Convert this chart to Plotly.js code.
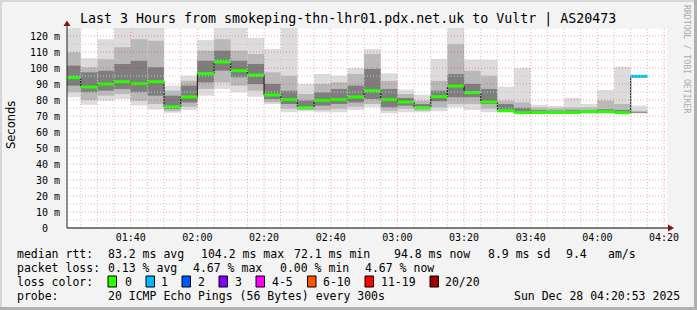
<!DOCTYPE html>
<html><head><meta charset="utf-8">
<script src="https://cdn.plot.ly/plotly-3.0.1.min.js"></script>
<style>html,body{margin:0;padding:0;background:#f3f3f3;}#chart{width:697px;height:310px;}</style>
</head><body><div id="chart"></div>
<script>
// ---------------- data ----------------
const DAY = "2025-12-28";
const bucketStart = ["01:20","01:25","01:30","01:35","01:40","01:45","01:50","01:55",
  "02:00","02:05","02:10","02:15","02:20","02:25","02:30","02:35","02:40","02:45","02:50","02:55",
  "03:00","03:05","03:10","03:15","03:20","03:25","03:30","03:35","03:40","03:45","03:50","03:55",
  "04:00","04:05","04:10"];
const medianMs = [94, 88.1, 90, 91.4, 90.2, 91.4, 75.8, 81.9, 96.5, 103.75, 98.3, 95.6, 83.1, 80.2, 75.2, 79.8, 80.2, 81.9, 85.8, 80.2, 78.75, 75.2, 82.1, 88.75, 84.6, 78.75, 73.3, 72.1, 72.2, 72.2, 72.2, 72.7, 72.7, 72.1, 94.8];
const minMs = [81.7, 77, 79.6, 80.6, 76.5, 74, 72, 73.75, 82.7, 86.9, 84.8, 82, 77.5, 72.3, 72.9, 72.3, 72.3, 73.75, 75.4, 71.7, 72.3, 72.3, 72.9, 75.4, 73.75, 72.3, 72.3, 71.7, 71.7, 71.7, 71.7, 71.7, 71.7, 71.7, 71.7];
const p10Ms = [84.8, 80, 82.7, 83.75, 79.6, 77.5, 73, 75.8, 86.9, 91, 89, 85.8, 78.5, 74.4, 73.75, 73.75, 74.4, 75.8, 77.5, 73.3, 74.4, 73.3, 75.4, 77.5, 77.5, 74.4, 72.5, 71.8, 71.8, 71.8, 71.8, 71.8, 71.8, 71.8, 71.8];
const p25Ms = [89, 84.8, 85.8, 86.9, 84.8, 82.7, 74.4, 78.5, 91, 98.3, 94.2, 90, 80.6, 77.5, 74.4, 76.5, 77.5, 78.5, 80.6, 75.4, 76.5, 74.4, 79.2, 81.7, 81.7, 77.5, 72.9, 72, 72, 72, 72, 72.3, 72.3, 72, 71.9];
const p75Ms = [101.5, 97.3, 98.3, 102.5, 104.6, 100.4, 82.7, 89, 104.6, 110.8, 104.6, 102.5, 90, 85.8, 79.6, 84.8, 86.9, 89, 99.4, 86.9, 81.25, 77.5, 85.8, 96.25, 90, 86.9, 77.5, 75.2, 73.6, 73.4, 73.6, 73.4, 74.2, 73.8, 72.3];
const p90Ms = [109.8, 100.4, 105.6, 113, 118, 117, 85.8, 92, 110.8, 118, 110.8, 108.75, 97.3, 95.2, 83.75, 90, 91, 96.25, 108.75, 92, 83.75, 79.6, 92, 115, 98.3, 95.2, 79.6, 78.5, 75.4, 75, 75.4, 75.4, 79.6, 77.5, 73.2];
const maxMs = [127, 106.2, 118, 127, 127, 127, 89, 95.2, 117.5, 127, 127, 118.75, 111.9, 127, 90, 96.25, 95.2, 100, 111.9, 96.7, 86.5, 83.3, 105.6, 127, 105.2, 105.2, 88.3, 100, 77, 76.25, 81.25, 77.5, 86.25, 100.8, 76.5];
const lostPings = [0,0,0,0,0,0,0,0,0,0,0,0,0,0,0,0,0,0,0,0,0,0,0,0,0,0,0,0,0,0,0,0,0,0,1];

const xTickLabels = ["01:40","02:00","02:20","02:40","03:00","03:20","03:40","04:00","04:20"];
const yTickVals = [0,10,20,30,40,50,60,70,80,90,100,110,120];
const yTickText = ["0\u00a0\u00a0","10 m","20 m","30 m","40 m","50 m","60 m","70 m","80 m","90 m","100 m","110 m","120 m"];

const lossLabels = ["0","1","2","3","4-5","6-10","11-19","20/20"];
const lossColors = ["#26ff00","#00b8ff","#0059ff","#7e00ff","#ff00ff","#ff5500","#ff0000","#a10000"];

const titleText = "Last 3 Hours from smokeping-thn-lhr01.pdx.net.uk to Vultr | AS20473";
const legendLine1 = [[16,"median rtt:"],[107,"83.2 ms avg"],[200,"104.2 ms max"],[293,"72.1 ms min"],[393,"94.8 ms now"],[487,"8.9 ms sd"],[565,"9.4"],[607,"am/s"]];
const legendLine2 = [[16,"packet loss:"],[107,"0.13 % avg"],[192,"4.67 % max"],[279,"0.00 % min"],[364,"4.67 % now"]];
const legendLine3Label = [16,"loss color:"];
const lossBoxX = [108,146,182,219,256,307.5,365,430];
const lossTextX = [123.5,160,197,234,271,322,380,444];
const legendLine4 = [[16,"probe:"],[107,"20 ICMP Echo Pings (56 Bytes) every 300s"],[513,"Sun Dec 28 04:20:53 2025"]];

// ---------------- helpers ----------------
const STEP_MIN = 5;
function ts(hhmm, addMin){
  const [h,m] = hhmm.split(":").map(Number);
  const t = h*60 + m + (addMin||0);
  const hh = String(Math.floor(t/60)).padStart(2,"0"), mm = String(t%60).padStart(2,"0");
  return DAY + " " + hh + ":" + mm + ":00";
}
const PL = 67, PR = 667, PT = 28, PB = 228;
function px(x){ return (x-PL)/(PR-PL); }
function py(y){ return (PB-y)/(PB-PT); }

const xs = bucketStart.map(s => ts(s));
const lastEnd = ts(bucketStart[bucketStart.length-1], STEP_MIN);

function band(lo, hi, color){
  return {type:"bar", x: xs, base: lo, y: hi.map((v,i)=>v-lo[i]), width: STEP_MIN*60000, offset: 0,
    marker:{color: color, line:{width:0}}, hoverinfo:"skip", showlegend:false};
}
const traces = [
  band(minMs, maxMs, "#dcdcdc"),
  band(p10Ms, p90Ms, "#b8b8b8"),
  band(p25Ms, p75Ms, "#7e7e7e"),
];
// step line (risers)
traces.push({type:"scatter", mode:"lines", x: xs.concat([lastEnd]), y: medianMs.concat([medianMs[medianMs.length-1]]),
  line:{shape:"hv", color:"#111", width:1}, hoverinfo:"skip", showlegend:false});
// median segments coloured by loss
const levelOf = n => n===0?0:n===1?1:n===2?2:n===3?3:n<=5?4:n<=10?5:n<20?6:7;
for (let lv=0; lv<lossColors.length; lv++){
  const sx=[], sy=[];
  medianMs.forEach((m,i)=>{ if(levelOf(lostPings[i])===lv){ sx.push(xs[i], ts(bucketStart[i],STEP_MIN), null); sy.push(m,m,null);} });
  if (sx.length) traces.push({type:"scatter", mode:"lines", x:sx, y:sy, line:{color:lossColors[lv], width:3}, hoverinfo:"skip", showlegend:false});
}

// ---------------- grid (drawn above the smoke, like rrdtool) ----------------
const shapes = [];
const GRID_MINOR = "#c4c4c4", GRID_MAJOR = "rgba(255,0,0,0.38)", DOT = "1px,2px";
for (let t = 80; t <= 260; t += STEP_MIN){
  const hh = String(Math.floor(t/60)).padStart(2,"0")+":"+String(t%60).padStart(2,"0");
  const major = xTickLabels.includes(hh);
  shapes.push({type:"line", xref:"x", yref:"paper", x0: ts(hh), x1: ts(hh), y0:0, y1:1, layer:"above",
    line:{color: major?GRID_MAJOR:GRID_MINOR, width:1, dash: DOT}});
}
for (let v = 5; v <= 125; v += 5){
  const major = v % 10 === 0;
  shapes.push({type:"line", xref:"paper", yref:"y", x0:0, x1:1, y0:v, y1:v, layer:"above",
    line:{color: major?GRID_MAJOR:GRID_MINOR, width:1, dash: DOT}});
}
// axis extensions + arrows
shapes.push({type:"line", xref:"paper", yref:"paper", x0:px(67), x1:px(67), y0:py(228), y1:py(23), line:{color:"#222", width:1}, layer:"above"});
shapes.push({type:"line", xref:"paper", yref:"paper", x0:px(67), x1:px(669), y0:py(228), y1:py(228), line:{color:"#000", width:1}, layer:"above"});
shapes.push({type:"path", xref:"paper", yref:"paper", layer:"above",
  path:`M ${px(63.5)} ${py(26)} L ${px(67)} ${py(20.5)} L ${px(70.5)} ${py(26)} Z`, fillcolor:"#8b1010", line:{width:0}});
shapes.push({type:"path", xref:"paper", yref:"paper", layer:"above",
  path:`M ${px(668)} ${py(224.5)} L ${px(674)} ${py(228)} L ${px(668)} ${py(231.5)} Z`, fillcolor:"#8b1010", line:{width:0}});
// frame
function rectPx(x0,y0,x1,y1,c){ shapes.push({type:"rect", xref:"paper", yref:"paper", x0:px(x0), x1:px(x1), y0:py(y0), y1:py(y1), fillcolor:c, line:{width:0}, layer:"above"}); }
rectPx(0,0,697,2,"#d6d6d6");
rectPx(0,0,2,310,"#d6d6d6");
rectPx(0,307,697,310,"#b0b0b0");
rectPx(694,0,697,310,"#b0b0b0");
// loss colour boxes
lossBoxX.forEach((bx,i)=>{
  shapes.push({type:"rect", xref:"paper", yref:"paper", x0:px(bx), x1:px(bx+8.5), y0:py(287), y1:py(276),
    fillcolor: lossColors[i], line:{color:"#000", width:1}});
});

// ---------------- text ----------------
const MONO = "DejaVu Sans Mono";
const ann = [];
function txt(x, y, s, opt){
  ann.push(Object.assign({xref:"paper", yref:"paper", x:px(x), y:py(y), text:s, showarrow:false,
    xanchor:"left", yanchor:"middle", borderpad:0, font:{family:MONO, size:11.5, color:"#000"}}, opt||{}));
}
txt(347.5, 19, titleText, {xanchor:"center", font:{family:MONO, size:13.3, color:"#000"}});
txt(11, 125, "Seconds", {xanchor:"center", textangle:-90, font:{family:"DejaVu Sans", size:11.5, color:"#000"}});
txt(687, 59, "RRDTOOL / TOBI OETIKER", {xanchor:"center", textangle:90, font:{family:MONO, size:8.2, color:"#aaaaaa"}});
legendLine1.forEach(([x,s])=>txt(x,254,s));
legendLine2.forEach(([x,s])=>txt(x,268,s));
txt(legendLine3Label[0],282,legendLine3Label[1]);
lossTextX.forEach((x,i)=>txt(x,282,lossLabels[i]));
legendLine4.forEach(([x,s])=>txt(x,296,s));

const layout = {
  width:697, height:310,
  margin:{l:PL, r:697-PR, t:PT, b:310-PB, pad:0},
  paper_bgcolor:"#f3f3f3", plot_bgcolor:"#ffffff",
  barmode:"overlay", showlegend:false,
  xaxis:{type:"date", range:[DAY+" 01:20:53", DAY+" 04:20:53"],
    tickvals: xTickLabels.map(s=>ts(s)), ticktext: xTickLabels,
    showgrid:false, zeroline:false, showline:false, ticks:"", ticklabelstandoff:2,
    tickfont:{family:MONO, size:10, color:"#000"}, fixedrange:true},
  yaxis:{range:[0,125], tickvals:yTickVals, ticktext:yTickText,
    showgrid:false, zeroline:false, showline:false, ticks:"", ticklabelstandoff:6,
    tickfont:{family:MONO, size:10, color:"#000"}, fixedrange:true},
  shapes: shapes, annotations: ann
};
Plotly.newPlot("chart", traces, layout, {displayModeBar:false, staticPlot:true});
</script></body></html>
